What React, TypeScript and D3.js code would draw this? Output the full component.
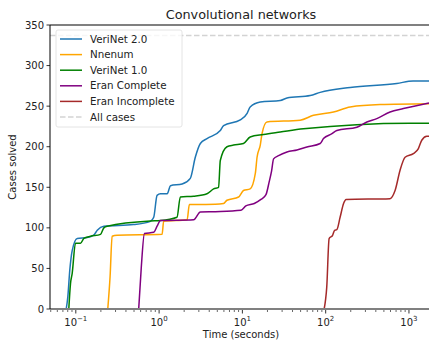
import React, { useRef, useEffect } from 'react';
import * as d3 from 'd3';

// [time in seconds, cases solved]
const verinet2: [number, number][] = [
  [0.0767, 0], [0.0802, 15], [0.0847, 48], [0.0905, 72], [0.104, 87], [0.137, 88], [0.164, 91],
  [0.181, 97], [0.217, 102], [0.492, 104], [0.787, 108], [0.862, 113], [0.946, 140], [1.04, 142],
  [1.25, 142], [1.37, 152], [1.89, 154], [2.37, 161], [2.72, 187], [3.13, 204], [3.76, 210],
  [5.43, 220], [5.95, 226], [9.44, 233], [11.4, 241], [12.4, 249], [16.4, 255], [28.5, 257],
  [34.3, 260], [65.2, 263], [85.9, 267], [197, 273], [714, 278], [1120, 281], [1740, 281],
];
const nnenum: [number, number][] = [
  [0.242, 0], [0.258, 40], [0.273, 89.6], [0.313, 90.8], [1.086, 92], [1.135, 108], [2.17, 110],
  [2.31, 128.7], [4.73, 129], [5.95, 130], [6.53, 134], [9.0, 138], [10.3, 146], [12.4, 148],
  [14.3, 167], [15.0, 187], [16.4, 202], [17.2, 216], [19.7, 230.5], [49.4, 232.6], [71.4, 238.7],
  [124, 242.8], [197, 249], [450, 252], [1740, 253],
];
const verinet1: [number, number][] = [
  [0.0824, 0], [0.0863, 31], [0.0905, 44], [0.0991, 81], [0.114, 81], [0.125, 87], [0.15, 89.6],
  [0.198, 92], [0.217, 100], [0.238, 102], [0.787, 108.5], [1.04, 109], [1.64, 113], [1.8, 138],
  [2.6, 139], [3.76, 142], [4.51, 148], [5.18, 150], [5.43, 183], [6.53, 200], [7.84, 202],
  [10.3, 204], [12.4, 212], [17.9, 215], [28.5, 218], [54.2, 222], [1030, 229], [1740, 229],
];
const eranComplete: [number, number][] = [
  [0.569, 0], [0.61, 50], [0.667, 93], [0.862, 94.5], [0.946, 102], [1.04, 109], [2.6, 110],
  [3.13, 119.5], [4.73, 120], [9.62, 121.6], [11.0, 127], [13.9, 130], [16.7, 135], [19.2, 141],
  [21.0, 157], [22.4, 170], [23.7, 185], [27.2, 189], [34.3, 193.5], [45.2, 196], [59.5, 199.7],
  [85.9, 204], [94.1, 210], [119, 216], [136, 220], [237, 224], [312, 230.5], [411, 234.6],
  [593, 242.8], [857, 247], [1740, 254],
];
const eranIncomplete: [number, number][] = [
  [95.9, 0], [103, 27], [110, 86.8], [121, 90.8], [128, 97], [136, 97.8], [149, 113], [164, 130],
  [176, 135], [593, 136], [681, 146], [782, 171], [898, 187], [1130, 191.5], [1297, 197.7],
  [1424, 208], [1636, 212.8], [1740, 212.8],
];
const allCases = 337;

const seriesNames = ['VeriNet 2.0', 'Nnenum', 'VeriNet 1.0', 'Eran Complete', 'Eran Incomplete'];
const seriesData = [verinet2, nnenum, verinet1, eranComplete, eranIncomplete];
const seriesColors = ['#1f77b4', '#ffa500', '#008000', '#800080', '#a52a2a'];
const yTicks = [0, 50, 100, 150, 200, 250, 300, 350];

const W = 429;
const H = 343;
const margin = { left: 50, top: 25, right: 0, bottom: 34 };

const App = () => {
  const ref = useRef<SVGSVGElement>(null);

  useEffect(() => {
    const svg = d3.select(ref.current);
    svg.selectAll('*').remove();

    const x = d3.scaleLog().domain([0.049, 1740]).range([margin.left, W - margin.right]);
    const y = d3.scaleLinear().domain([0, 350]).range([H - margin.bottom, margin.top]);

    const font = 'DejaVu Sans, sans-serif';

    // title + axis labels
    svg.append('text').attr('x', 241).attr('y', 19).attr('text-anchor', 'middle')
      .attr('font-family', font).attr('font-size', 12.8).attr('fill', '#222').text('Convolutional networks');
    svg.append('text').attr('x', 241).attr('y', 338).attr('text-anchor', 'middle')
      .attr('font-family', font).attr('font-size', 10).attr('fill', '#222').text('Time (seconds)');
    svg.append('text').attr('transform', `translate(16, ${y(175)}) rotate(-90)`).attr('text-anchor', 'middle')
      .attr('font-family', font).attr('font-size', 10).attr('fill', '#222').text('Cases solved');

    // all cases line
    svg.append('line')
      .attr('x1', margin.left).attr('x2', W).attr('y1', y(allCases)).attr('y2', y(allCases))
      .attr('stroke', '#d3d3d3').attr('stroke-width', 1.5).attr('stroke-dasharray', '5.5,2.5');

    const line = d3.line<[number, number]>().x(d => x(d[0])).y(d => y(d[1])).curve(d3.curveMonotoneX);
    seriesData.forEach((data, i) => {
      svg.append('path').datum(data)
        .attr('d', line)
        .attr('fill', 'none')
        .attr('stroke', seriesColors[i])
        .attr('stroke-width', 1.5)
        .attr('stroke-linejoin', 'round');
    });

    // spines
    svg.append('line').attr('x1', margin.left).attr('x2', W).attr('y1', margin.top).attr('y2', margin.top)
      .attr('stroke', '#808080').attr('stroke-width', 2);
    svg.append('line').attr('x1', margin.left).attr('x2', W).attr('y1', H - margin.bottom).attr('y2', H - margin.bottom)
      .attr('stroke', '#808080').attr('stroke-width', 2);
    svg.append('line').attr('x1', margin.left).attr('x2', margin.left).attr('y1', margin.top).attr('y2', H - margin.bottom)
      .attr('stroke', '#000').attr('stroke-width', 1);

    // y ticks
    const yg = svg.append('g');
    yTicks.forEach(t => {
      yg.append('line').attr('x1', margin.left - 3.5).attr('x2', margin.left).attr('y1', y(t)).attr('y2', y(t))
        .attr('stroke', '#000').attr('stroke-width', 0.8);
      yg.append('text').attr('x', margin.left - 6).attr('y', y(t)).attr('dy', '0.35em').attr('text-anchor', 'end')
        .attr('font-family', font).attr('font-size', 10).attr('fill', '#222').text(t);
    });

    // x ticks (log, major + minor)
    const xg = svg.append('g');
    const yb = H - margin.bottom;
    for (let e = -2; e <= 3; e++) {
      for (let m = 1; m <= 9; m++) {
        const v = m * Math.pow(10, e);
        if (v < x.domain()[0] || v > x.domain()[1]) continue;
        const major = m === 1;
        xg.append('line').attr('x1', x(v)).attr('x2', x(v)).attr('y1', yb + 1).attr('y2', yb + (major ? 4.5 : 3))
          .attr('stroke', '#000').attr('stroke-width', major ? 0.8 : 0.6);
        if (major) {
          const lbl = xg.append('text').attr('x', x(v)).attr('y', yb + 17).attr('text-anchor', 'middle')
            .attr('font-family', font).attr('font-size', 10).attr('fill', '#222');
          lbl.append('tspan').text('10');
          lbl.append('tspan').attr('dy', -5).attr('font-size', 7).text(String(e).replace('-', '\u2212'));
        }
      }
    }

    // legend
    const lg = svg.append('g').attr('transform', 'translate(56, 30)');
    lg.append('rect').attr('x', 0).attr('y', 0).attr('width', 126).attr('height', 97).attr('rx', 2)
      .attr('fill', 'rgba(255,255,255,0.8)').attr('stroke', '#ddd').attr('stroke-width', 0.8);
    const names = [...seriesNames, 'All cases'];
    const colors = [...seriesColors, '#d3d3d3'];
    names.forEach((n, i) => {
      const cy = 9 + i * 15.6;
      lg.append('line').attr('x1', 4).attr('x2', 26).attr('y1', cy).attr('y2', cy)
        .attr('stroke', colors[i]).attr('stroke-width', 1.5)
        .attr('stroke-dasharray', i === 5 ? '5.5,2.5' : null);
      lg.append('text').attr('x', 34).attr('y', cy).attr('dy', '0.35em')
        .attr('font-family', font).attr('font-size', 10.3).attr('fill', '#222').text(n);
    });
  }, []);

  return <svg ref={ref} width={W} height={H} style={{ position: 'absolute', left: 0, top: 0 }} />;
};

export default App;
